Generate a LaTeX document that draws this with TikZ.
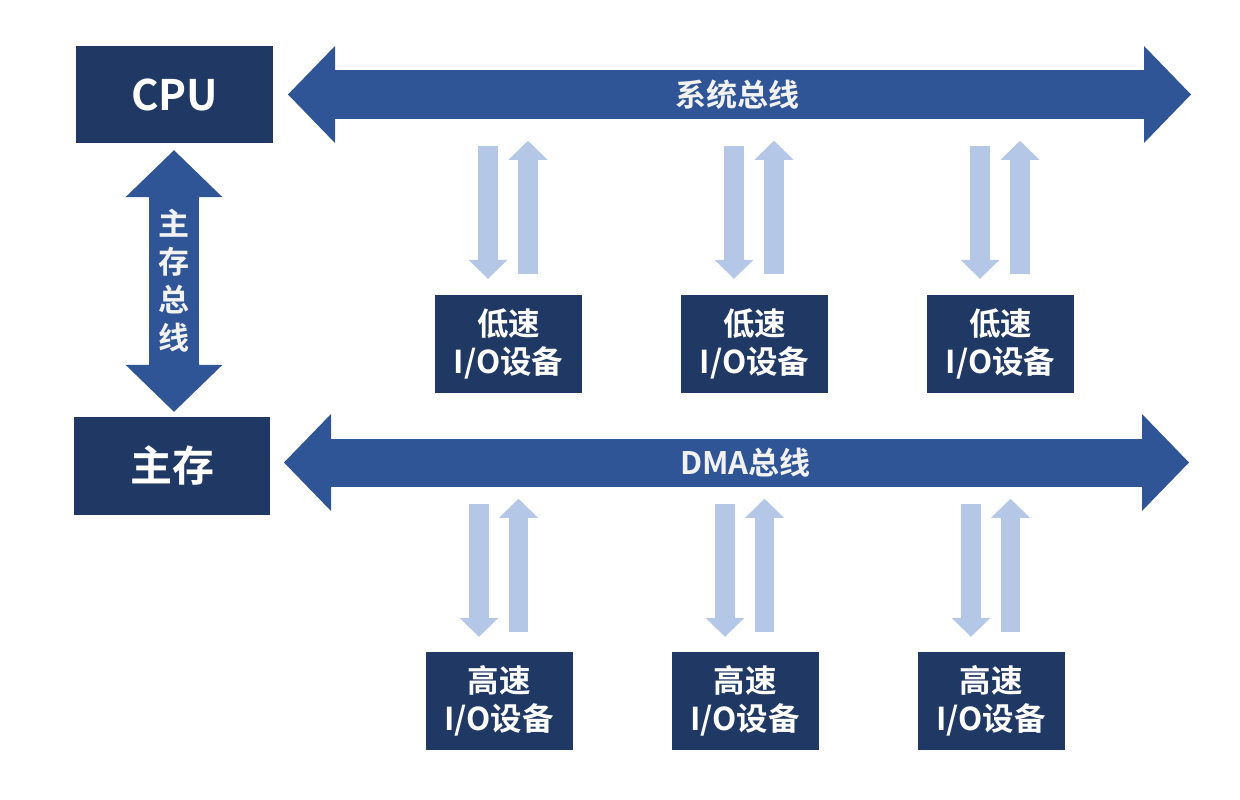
\documentclass[tikz,border=0pt]{standalone}
\usepackage{fontspec}
\newfontfamily\cjk{Noto Sans CJK SC}[BoldFont={Noto Sans CJK SC Bold}]
\usetikzlibrary{arrows.meta}
\definecolor{boxblue}{HTML}{203864}
\definecolor{busblue}{HTML}{2F5597}
\definecolor{linkblue}{HTML}{B4C7E7}
\tikzset{
unit/.style={fill=boxblue, text=white, inner sep=0pt, font=\cjk\bfseries\fontsize{42}{42}\selectfont},
device/.style={fill=boxblue, text=white, inner sep=0pt, minimum width=147pt, minimum height=98pt, align=center, font=\cjk\bfseries\fontsize{31.5}{38}\selectfont},
bus/.style={draw=busblue, line width=48pt, {Triangle[width=97pt,length=47pt,line width=0pt 0 0]}-{Triangle[width=97pt,length=47pt,line width=0pt 0 0]}},
buslabel/.style={text=white!95!black, font=\cjk\bfseries\fontsize{31}{38}\selectfont, align=center},
link/.style={draw=linkblue, line width=19.5pt, -{Triangle[width=39pt,length=19pt,line width=0pt 0 0]}}}

\begin{document}
\begin{tikzpicture}[x=1pt, y=-1pt]
    \useasboundingbox (0,0) rectangle (1240,800);

    \node[unit, minimum width=197pt, minimum height=97pt] (cpu) at (174.5,94.5) {CPU};
    \node[unit, minimum width=196pt, minimum height=98pt] (mem) at (172,466) {主存};

    \coordinate (sysL) at (288,94.5);
    \coordinate (sysR) at (1191,94.5);
    \coordinate (dmaL) at (284,462.5);
    \coordinate (dmaR) at (1189,462.5);

    \draw[bus] (sysL) -- (sysR) node[midway, buslabel, xshift=-2pt] {系统总线};
    \draw[bus] (dmaL) -- (dmaR) node[midway, buslabel, xshift=9pt] {DMA总线};
    \draw[bus, line width=50pt] ([yshift=-7pt]cpu.south -| 174,0) -- ([yshift=5pt]mem.north -| 174,0)
        node[midway, buslabel, font=\cjk\bfseries\fontsize{31}{38}\selectfont] {主\\存\\总\\线};

    \foreach \i/\x in {1/508.5, 2/754.5, 3/1000.5} {
        \node[device] (low\i) at (\x,344) {低速\\I/O设备};
        \draw[link] ([shift={(-20.5,-149)}]low\i.north) -- ([shift={(-20.5,-16)}]low\i.north);
        \draw[link] ([shift={(19.5,-21)}]low\i.north) -- ([shift={(19.5,-154)}]low\i.north);
    }
    \foreach \i/\x in {1/499, 2/745, 3/991} {
        \node[device] (high\i) at (\x,701) {高速\\I/O设备};
        \draw[link] ([shift={(-20,-148)}]high\i.north) -- ([shift={(-20,-15)}]high\i.north);
        \draw[link] ([shift={(19.5,-20)}]high\i.north) -- ([shift={(19.5,-153)}]high\i.north);
    }

\end{tikzpicture}
\end{document}
